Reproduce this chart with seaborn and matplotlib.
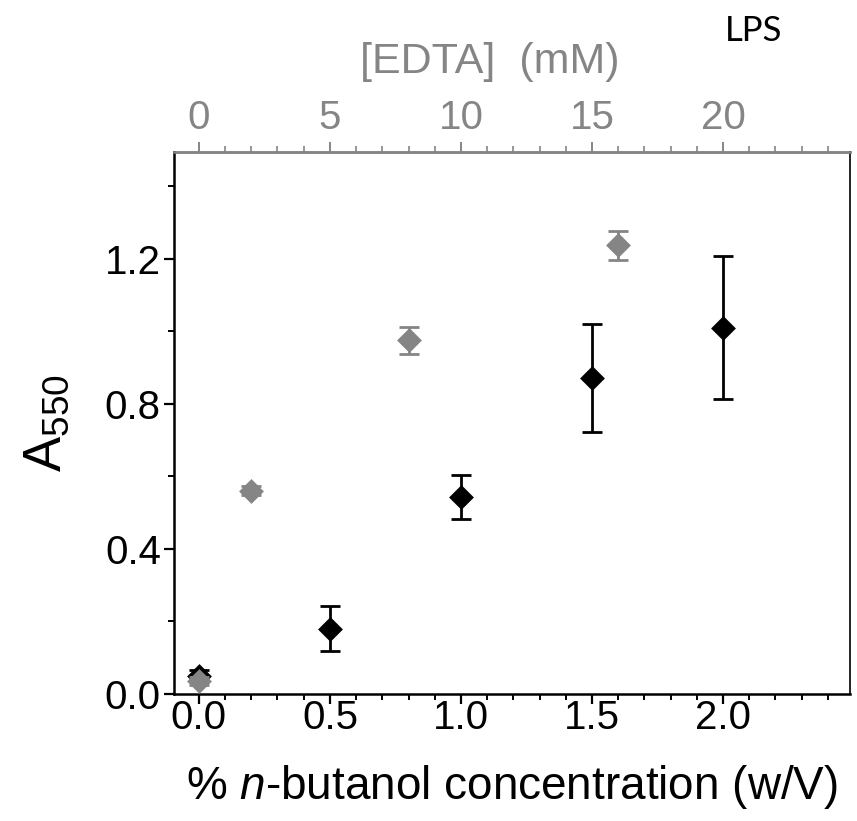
import matplotlib
matplotlib.use("Agg")
import matplotlib.pyplot as plt
import seaborn as sns
import pandas as pd
from matplotlib.ticker import MultipleLocator

# Data
butanol_x = [0.0, 0.5, 1.0, 1.5, 2.0]          # % n-butanol (w/V)
butanol_y = [0.05, 0.18, 0.543, 0.87, 1.01]
butanol_err = [0.015, 0.063, 0.06, 0.149, 0.198]

edta_mM = [0, 2, 8, 16]                         # [EDTA] (mM)
edta_y = [0.035, 0.56, 0.975, 1.238]
edta_err = [0.01, 0.012, 0.037, 0.04]

xticks_bottom = [0.0, 0.5, 1.0, 1.5, 2.0]
yticks = [0.0, 0.4, 0.8, 1.2]
xticks_top = [0, 5, 10, 15, 20]

GRAY = "#858585"

sns.set_style("ticks")
plt.rcParams['font.family'] = ['Liberation Sans', 'DejaVu Sans']
plt.rcParams['mathtext.fontset'] = 'custom'
plt.rcParams['mathtext.rm'] = 'Liberation Sans'
plt.rcParams['mathtext.it'] = 'Liberation Sans:italic'

fig = plt.figure(figsize=(8.57, 8.21), dpi=100)
ax = fig.add_axes([0.203, 0.155, 0.789, 0.66])

df_b = pd.DataFrame({"x": butanol_x, "y": butanol_y})
df_e = pd.DataFrame({"x": [v / 10 for v in edta_mM], "y": edta_y})

# black series
ax.errorbar(df_b["x"], df_b["y"], yerr=butanol_err, fmt="none", ecolor="black",
            elinewidth=2.0, capsize=7.5, capthick=2.0, zorder=2)
sns.scatterplot(data=df_b, x="x", y="y", marker="D", s=160, color="black",
                edgecolor="black", linewidth=0, ax=ax, zorder=3)
# gray series
ax.errorbar(df_e["x"], df_e["y"], yerr=edta_err, fmt="none", ecolor=GRAY,
            elinewidth=2.0, capsize=7.5, capthick=2.0, zorder=4)
sns.scatterplot(data=df_e, x="x", y="y", marker="D", s=160, color=GRAY,
                edgecolor=GRAY, linewidth=0, ax=ax, zorder=5)

ax.set_xlim(-0.095, 2.485)
ax.set_ylim(0.0, 1.495)

ax.set_xticks(xticks_bottom)
ax.set_xticklabels([f"{v:.1f}" for v in xticks_bottom])
ax.xaxis.set_minor_locator(MultipleLocator(0.1))
ax.set_yticks(yticks)
ax.set_yticklabels([f"{v:.1f}" for v in yticks])
ax.yaxis.set_minor_locator(MultipleLocator(0.2))

ax.tick_params(axis="both", which="major", labelsize=29, width=1.6, length=7.5,
               direction="out", color="black", labelcolor="black", pad=2)
ax.tick_params(axis="x", which="major", pad=-4)
ax.tick_params(axis="both", which="minor", width=1.4, length=4, direction="out",
               color="black")
ax.tick_params(axis="x", which="both", top=False)
ax.tick_params(axis="y", which="both", right=False)

for side in ["left", "bottom"]:
    ax.spines[side].set_linewidth(1.8)
    ax.spines[side].set_color("black")
ax.spines["right"].set_visible(True)
ax.spines["right"].set_linewidth(1.2)
ax.spines["right"].set_color("black")
ax.spines["top"].set_visible(True)
ax.spines["top"].set_linewidth(1.8)
ax.spines["top"].set_color(GRAY)

ax.set_xlabel(r"% $\mathit{n}$-butanol concentration (w/V)", fontsize=33,
              color="black", labelpad=19)
ax.set_ylabel(r"$\mathregular{A_{550}}$", fontsize=38, color="black", labelpad=24)

# top axis (EDTA)
top = ax.secondary_xaxis("top", functions=(lambda x: x * 10, lambda x: x / 10))
top.set_xticks(xticks_top)
top.set_xticklabels([str(v) for v in xticks_top])
top.xaxis.set_minor_locator(MultipleLocator(1))
top.tick_params(axis="x", which="major", labelsize=29, width=1.4, length=7,
                color=GRAY, labelcolor=GRAY, pad=4)
top.tick_params(axis="x", which="minor", width=1.2, length=4, color=GRAY)
top.spines["top"].set_color(GRAY)
top.spines["top"].set_linewidth(1.8)
ax.text(0.467, 1.166, "[EDTA]  (mM)", transform=ax.transAxes, fontsize=31,
        color=GRAY, ha="center", va="center")

fig.text(0.879, 0.962, "LPS", fontsize=25, family=["Lato", "DejaVu Sans"],
         ha="center", va="center", color="black")

fig.savefig("out.png", dpi=100)
